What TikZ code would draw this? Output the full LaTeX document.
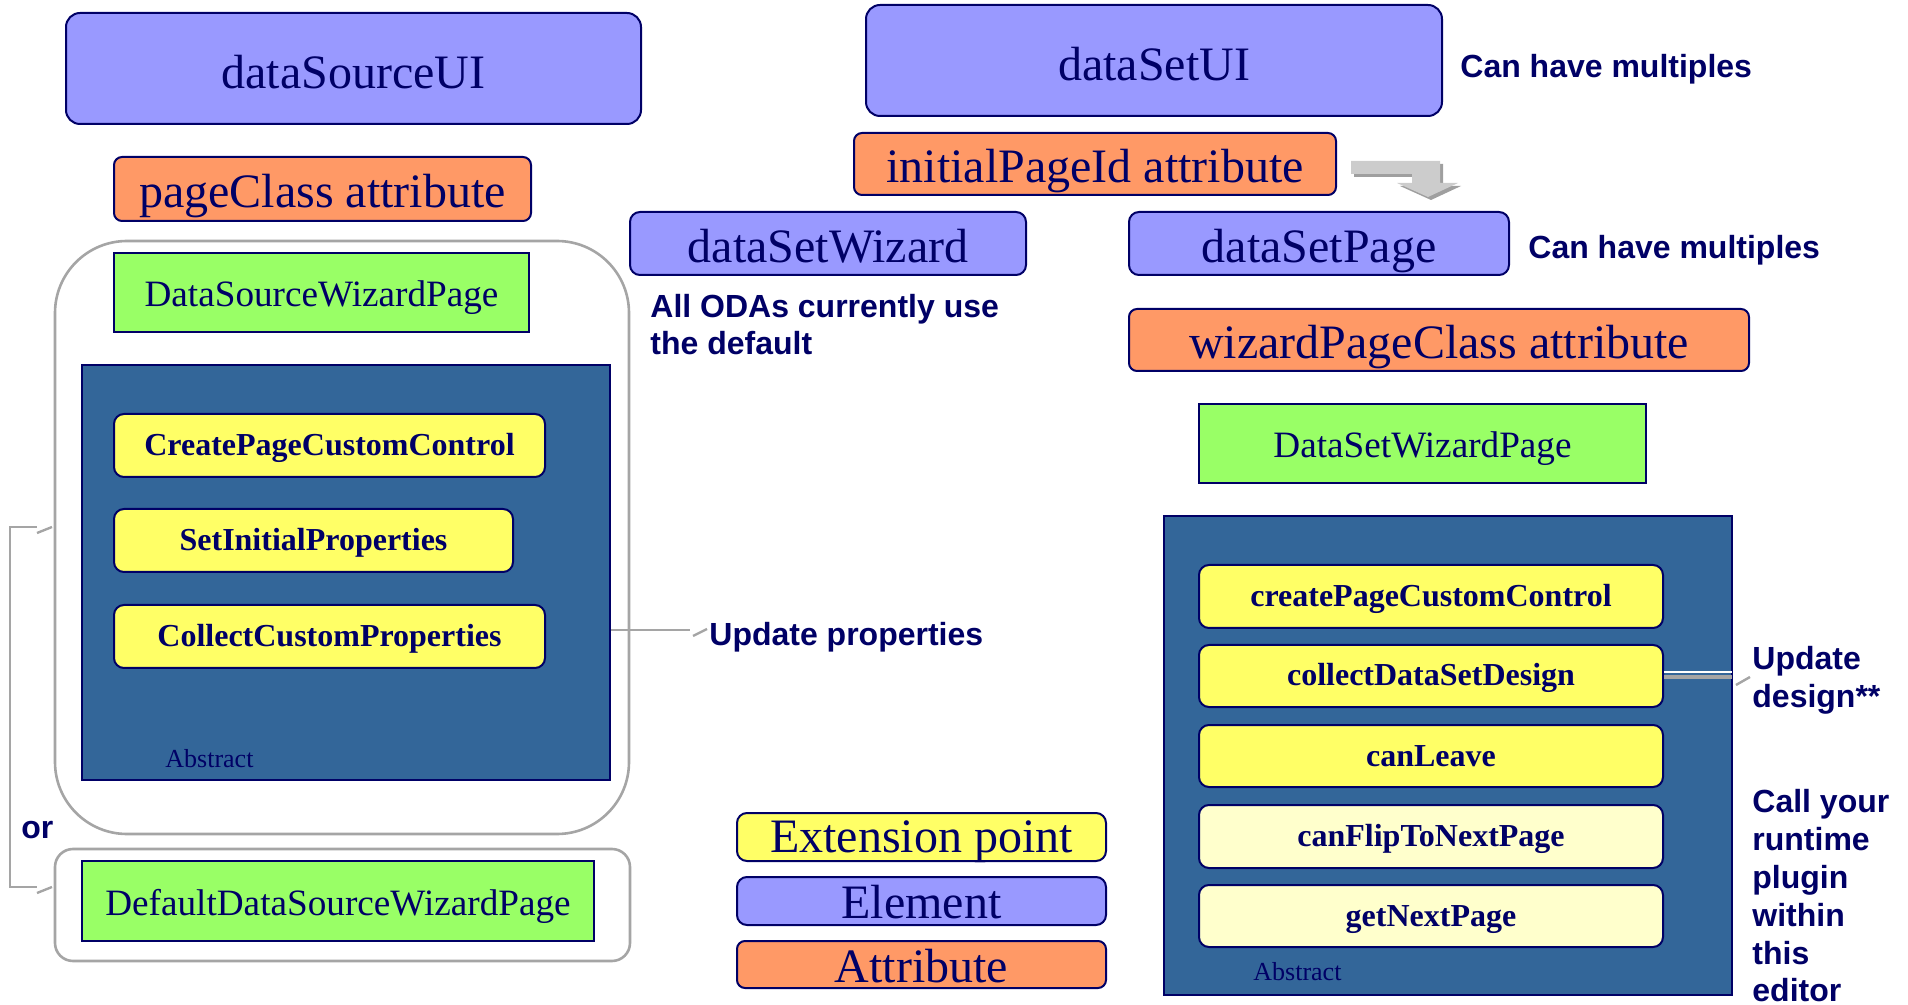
\documentclass[tikz,border=0pt]{standalone}
\usepackage{fontspec}
\setmainfont{Liberation Serif}
\setsansfont{Liberation Sans}
\definecolor{navy}{RGB}{0,0,102}
\definecolor{elemc}{RGB}{153,153,255}
\definecolor{attrc}{RGB}{255,153,102}
\definecolor{greenc}{RGB}{153,255,102}
\definecolor{yellowc}{RGB}{255,255,102}
\definecolor{paleyc}{RGB}{255,255,204}
\definecolor{abstc}{RGB}{51,102,153}
\definecolor{grayl}{RGB}{165,165,165}
\begin{document}
\begin{tikzpicture}[x=0.5pt,y=-0.5pt,
 base/.style={draw=navy, line width=1pt, inner sep=0pt, text=navy, text depth=1pt},
 elem/.style={base, fill=elemc, rounded corners=7pt, font=\fontsize{24}{28}\selectfont, text height=20pt},
 attr/.style={base, fill=attrc, rounded corners=4pt, font=\fontsize{24}{28}\selectfont, text height=19.5pt},
 pagebox/.style={base, fill=greenc, font=\fontsize{18.6}{22}\selectfont, text height=15pt},
 abst/.style={base, fill=abstc},
 ext/.style={base, fill=yellowc, rounded corners=5pt, font=\fontsize{16}{19}\selectfont\bfseries, text height=11pt},
 extp/.style={ext, fill=paleyc},
 grp/.style={draw=grayl, line width=1.3pt, inner sep=0pt},
 lbl/.style={text=navy, font=\fontsize{16}{19}\selectfont\sffamily\bfseries, anchor=base west, inner sep=0pt},
 small/.style={text=navy, font=\fontsize{13}{15}\selectfont, anchor=base west, inner sep=0pt},
 conn/.style={draw=grayl, line width=1.2pt},
]
\useasboundingbox (0,0) rectangle (1908,1005);

% ---------- left column ----------
\node[elem, text height=21.5pt, minimum width=287.5pt, minimum height=55.5pt] (dsui) at (353.5,68.5) {dataSourceUI};
\node[attr, minimum width=208.5pt, minimum height=32pt] (pc) at (322.5,189) {pageClass attribute};
\node[grp, rounded corners=36pt, minimum width=287pt, minimum height=296.5pt] (lgrp) at (342,537.5) {};
\node[pagebox, minimum width=207.5pt, minimum height=39.5pt] (dswp) at (321.5,292.5) {DataSourceWizardPage};
\node[abst, minimum width=264pt, minimum height=207.5pt] (labs) at (346,572.5) {};
\node[ext, minimum width=215.5pt, minimum height=31.5pt] (lc1) at (329.5,445.5) {CreatePageCustomControl};
\node[ext, minimum width=199.5pt, minimum height=31.5pt] (lc2) at (313.5,540.5) {SetInitialProperties};
\node[ext, minimum width=215.5pt, minimum height=31.5pt] (lc3) at (329.5,636.5) {CollectCustomProperties};
\node[small] (labst) at (165,768) {Abstract};
\node[grp, rounded corners=9pt, minimum width=287.5pt, minimum height=56pt] (lgrp2) at (342.5,905) {};
\node[pagebox, minimum width=256pt, minimum height=40pt] (ddswp) at (338,901) {DefaultDataSourceWizardPage};
\node[lbl] (orl) at (21,838) {or};

% bracket
\coordinate (bt) at (37,527);
\coordinate (bb) at (37,887);
\draw[conn] (bt) -- (10,527) -- (10,887) -- (bb);
\coordinate (bt1) at (37,533); \coordinate (bt2) at (52,527);
\coordinate (bb1) at (37,893); \coordinate (bb2) at (52,887);
\draw[conn] (bt1) -- (bt2);
\draw[conn] (bb1) -- (bb2);

% update properties
\coordinate (upA) at (690,630);
\draw[conn] (labs.east |- upA) -- (upA);
\coordinate (upt1) at (693,636); \coordinate (upt2) at (707,629);
\draw[conn] (upt1) -- (upt2);
\node[lbl] (uplbl) at (709,646) {Update properties};

% ---------- middle / right ----------
\node[elem, text height=21.5pt, minimum width=288pt, minimum height=55.5pt] (dsetui) at (1154,60.5) {dataSetUI};
\node[lbl] (chm1) at (1460,78) {Can have multiples};
\node[attr, minimum width=241pt, minimum height=31pt] (ipid) at (1095,164) {initialPageId attribute};

% gray bent arrow
\fill[gray!75] (1354,164) -- (1443,164) -- (1443,186) -- (1461,186) -- (1431,200) -- (1400,186) -- (1415,186) -- (1415,177) -- (1354,177) -- cycle;
\fill[gray!40] (1351,161) -- (1440,161) -- (1440,183) -- (1458,183) -- (1428,197) -- (1397,183) -- (1412,183) -- (1412,174) -- (1351,174) -- cycle;

\node[elem, rounded corners=5pt, minimum width=198pt, minimum height=31.5pt] (dsw) at (828,243.5) {dataSetWizard};
\node[elem, rounded corners=5pt, minimum width=190pt, minimum height=31.5pt] (dsp) at (1319,243.5) {dataSetPage};
\node[lbl] (chm2) at (1528,259) {Can have multiples};
\node[lbl] (oda1) at (650,318) {All ODAs currently use};
\node[lbl] (oda2) at (650,355) {the default};
\node[attr, minimum width=310pt, minimum height=31pt] (wpc) at (1439,340) {wizardPageClass attribute};
\node[pagebox, minimum width=223.5pt, minimum height=39.5pt] (dsetwp) at (1422.5,443.5) {DataSetWizardPage};

\node[abst, minimum width=284pt, minimum height=239.5pt] (rabs) at (1448,755.5) {};
\node[ext, minimum width=232pt, minimum height=31.5pt] (r1) at (1431,596.5) {createPageCustomControl};
\node[ext, minimum width=232pt, minimum height=31pt] (r2) at (1431,676) {collectDataSetDesign};
\node[ext, minimum width=232pt, minimum height=31pt] (r3) at (1431,756) {canLeave};
\node[extp, minimum width=232pt, minimum height=31.5pt] (r4) at (1431,836.5) {canFlipToNextPage};
\node[extp, minimum width=232pt, minimum height=31pt] (r5) at (1431,916) {getNextPage};
\node[small] (rabst) at (1253,980) {Abstract};

% update design connector
\coordinate (udA) at (1732,677);
\draw[draw=grayl, line width=1.6pt] (r2.east |- udA) -- (udA);
\draw[draw=white, line width=0.6pt] ([yshift=2.5pt]r2.east |- udA) -- ([yshift=2.5pt]udA);
\coordinate (udt1) at (1736,685); \coordinate (udt2) at (1750,677);
\draw[conn] (udt1) -- (udt2);
\node[lbl] (ud1) at (1752,669) {Update};
\node[lbl] (ud2) at (1752,707) {design**};

\node[lbl] (cy1) at (1752,812) {Call your};
\node[lbl] (cy2) at (1752,850) {runtime};
\node[lbl] (cy3) at (1752,888) {plugin};
\node[lbl] (cy4) at (1752,926) {within};
\node[lbl] (cy5) at (1752,964) {this};
\node[lbl] (cy6) at (1752,1001) {editor};

% legend
\node[ext, font=\fontsize{24}{28}\selectfont, text height=16pt, minimum width=184.5pt, minimum height=24pt] (lgx) at (921.5,837) {Extension point};
\node[elem, rounded corners=5pt, text height=18.5pt, minimum width=184.5pt, minimum height=24pt] (lge) at (921.5,901) {Element};
\node[attr, text height=18.5pt, minimum width=184.5pt, minimum height=23.5pt] (lga) at (921.5,964.5) {Attribute};
\end{tikzpicture}
\end{document}
